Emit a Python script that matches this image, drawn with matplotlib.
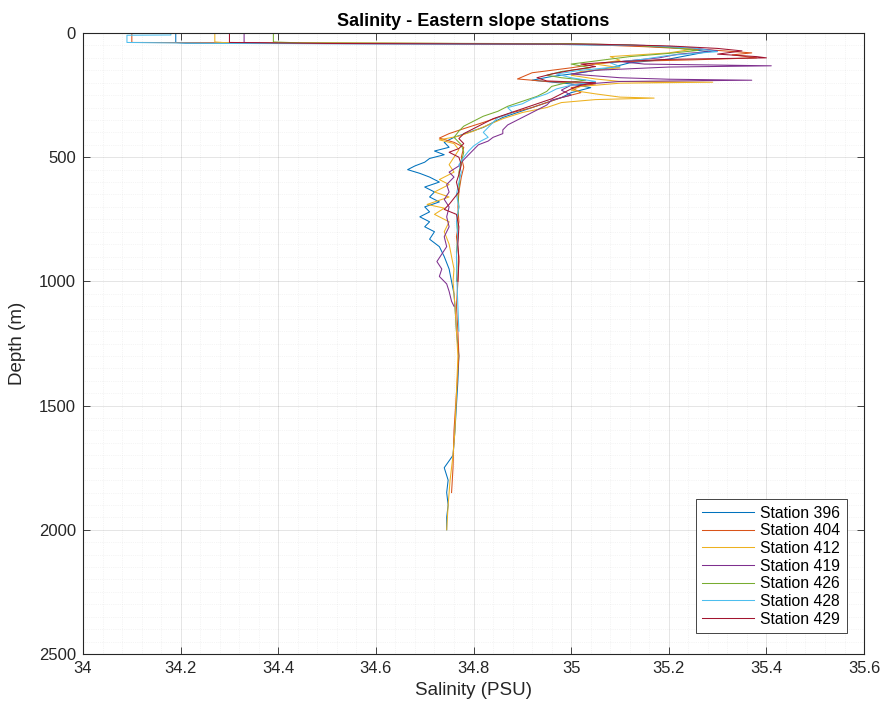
import numpy as np
import matplotlib
matplotlib.use("Agg")
import matplotlib.pyplot as plt
from matplotlib.ticker import MultipleLocator

plt.rcParams['font.family'] = ['Liberation Sans', 'DejaVu Sans']

stations = ["Station 396", "Station 404", "Station 412", "Station 419",
            "Station 426", "Station 428", "Station 429"]
colors = ["#0072BD", "#D95319", "#EDB120", "#7E2F8E", "#77AC30", "#4DBEEE", "#A2142F"]

# each row: [depth (m), salinity (PSU)]
st396 = np.array([
    [2, 34.19], [38, 34.19], [41, 34.21], [44, 34.9], [50, 35.12], [60, 35.22], [75, 35.28],
    [90, 35.24], [105, 35.2], [120, 35.12], [140, 35.08], [160, 35.02], [175, 34.96], [190, 34.92],
    [205, 35.0], [220, 35.04], [240, 35.0], [260, 34.98], [280, 34.95], [300, 34.92], [320, 34.89],
    [340, 34.86], [360, 34.84], [380, 34.82], [400, 34.79], [420, 34.76], [440, 34.74], [460, 34.75],
    [475, 34.72], [490, 34.74], [505, 34.71], [520, 34.70], [535, 34.68], [550, 34.665], [565, 34.69],
    [580, 34.71], [600, 34.73], [620, 34.70], [640, 34.72], [660, 34.71], [680, 34.73], [700, 34.70],
    [720, 34.71], [740, 34.69], [760, 34.71], [780, 34.70], [800, 34.72], [830, 34.71], [860, 34.73],
    [900, 34.74], [950, 34.75], [1000, 34.755], [1050, 34.76], [1100, 34.762], [1200, 34.765],
    [1300, 34.77], [1400, 34.768], [1500, 34.765], [1600, 34.762], [1700, 34.758], [1750, 34.74],
    [1800, 34.748], [1850, 34.745], [1900, 34.748], [1950, 34.745], [2000, 34.745]])

st404 = np.array([
    [3, 34.10], [38, 34.10], [41, 34.6], [44, 35.0], [55, 35.15], [70, 35.30], [80, 35.37],
    [88, 35.33], [100, 35.38], [108, 35.25], [115, 35.10], [125, 35.05], [140, 35.0], [160, 34.92],
    [185, 34.89], [195, 34.95], [205, 35.05], [220, 35.0], [240, 35.02], [260, 34.98], [280, 34.95],
    [300, 34.92], [320, 34.88], [340, 34.85], [360, 34.82], [385, 34.78], [405, 34.75], [423, 34.73],
    [440, 34.76], [460, 34.78], [500, 34.775], [540, 34.78], [580, 34.775], [640, 34.77],
    [700, 34.768], [760, 34.77], [820, 34.765], [900, 34.77], [1000, 34.768], [1100, 34.765],
    [1200, 34.768], [1300, 34.77], [1450, 34.765], [1600, 34.76], [1750, 34.758], [1850, 34.755]])

st412 = np.array([
    [3, 34.27], [36, 34.27], [40, 34.30], [43, 34.9], [47, 35.1], [55, 35.2], [65, 35.25],
    [80, 35.2], [95, 35.08], [110, 35.1], [125, 35.05], [140, 35.1], [155, 35.02], [170, 35.0],
    [185, 35.05], [195, 35.1], [198, 35.29], [202, 35.1], [215, 35.02], [230, 35.0], [245, 35.05],
    [258, 35.1], [262, 35.17], [268, 35.05], [280, 34.98], [300, 34.95], [320, 34.9], [345, 34.86],
    [370, 34.83], [395, 34.8], [415, 34.77], [430, 34.73], [445, 34.76], [470, 34.77], [500, 34.76],
    [530, 34.75], [560, 34.76], [590, 34.73], [610, 34.75], [640, 34.72], [660, 34.75], [690, 34.705],
    [705, 34.74], [730, 34.72], [760, 34.75], [800, 34.74], [850, 34.75], [900, 34.755], [950, 34.76],
    [1000, 34.758], [1100, 34.762], [1200, 34.765], [1300, 34.768], [1400, 34.766], [1500, 34.764],
    [1600, 34.762], [1700, 34.758], [1800, 34.752], [1900, 34.748], [2000, 34.745]])

st419 = np.array([
    [3, 34.33], [38, 34.33], [42, 34.4], [45, 35.0], [50, 35.15], [60, 35.25], [72, 35.3],
    [85, 35.22], [100, 35.18], [115, 35.1], [125, 35.15], [132, 35.41], [137, 35.2], [150, 35.05],
    [165, 35.0], [180, 35.1], [186, 35.2], [190, 35.37], [195, 35.1], [210, 35.0], [230, 34.98],
    [250, 35.0], [270, 34.96], [290, 34.95], [310, 34.93], [330, 34.91], [350, 34.89], [370, 34.87],
    [390, 34.86], [405, 34.86], [420, 34.84], [435, 34.83], [450, 34.81], [470, 34.8], [490, 34.79],
    [510, 34.78], [535, 34.77], [560, 34.75], [580, 34.76], [610, 34.745], [640, 34.75], [670, 34.74],
    [700, 34.75], [740, 34.745], [780, 34.75], [820, 34.74], [860, 34.745], [890, 34.735],
    [920, 34.725], [950, 34.735], [980, 34.73], [1010, 34.745], [1040, 34.75], [1080, 34.755],
    [1100, 34.76]])

st426 = np.array([
    [3, 34.39], [36, 34.39], [40, 34.45], [43, 35.0], [48, 35.12], [58, 35.2], [70, 35.26],
    [82, 35.2], [95, 35.12], [110, 35.06], [125, 35.0], [140, 35.04], [155, 34.98], [170, 34.95],
    [180, 34.98], [190, 35.03], [200, 34.99], [215, 34.96], [235, 34.95], [255, 34.93], [275, 34.9],
    [295, 34.87], [315, 34.85], [335, 34.82], [355, 34.8], [375, 34.78], [395, 34.77], [420, 34.76],
    [450, 34.775], [480, 34.78], [520, 34.775], [560, 34.77], [600, 34.772], [650, 34.768],
    [700, 34.77], [760, 34.766], [820, 34.768], [880, 34.765], [940, 34.766], [1000, 34.765]])

st428 = np.array([
    [1, 34.18], [8, 34.18], [9, 34.09], [38, 34.09], [42, 34.3], [45, 34.95], [50, 35.15],
    [60, 35.25], [75, 35.3], [90, 35.2], [105, 35.15], [120, 35.08], [135, 35.1], [150, 35.02],
    [165, 34.97], [180, 35.0], [195, 35.05], [210, 35.0], [225, 34.97], [245, 34.95], [265, 34.92],
    [285, 34.9], [300, 34.87], [320, 34.88], [340, 34.85], [360, 34.84], [380, 34.83], [400, 34.82],
    [420, 34.83], [435, 34.815], [455, 34.8], [475, 34.79], [500, 34.78], [530, 34.77], [560, 34.775],
    [600, 34.77], [650, 34.765], [700, 34.77], [760, 34.765], [820, 34.768], [900, 34.765],
    [1000, 34.766], [1100, 34.768], [1200, 34.77]])

st429 = np.array([
    [2, 34.30], [38, 34.30], [42, 34.5], [45, 35.05], [52, 35.2], [62, 35.3], [72, 35.35],
    [85, 35.3], [95, 35.38], [100, 35.40], [106, 35.2], [115, 35.1], [125, 35.02], [135, 35.05],
    [150, 35.0], [165, 34.96], [180, 34.93], [193, 34.95], [200, 35.05], [210, 35.02], [225, 35.0],
    [245, 34.98], [265, 34.96], [285, 34.93], [305, 34.9], [325, 34.87], [345, 34.84], [365, 34.82],
    [385, 34.8], [405, 34.78], [425, 34.77], [445, 34.78], [465, 34.77], [480, 34.75], [500, 34.77],
    [530, 34.775], [570, 34.77], [600, 34.765], [640, 34.77], [690, 34.75], [710, 34.74],
    [730, 34.765], [780, 34.77], [850, 34.768], [920, 34.77], [1000, 34.768]])

profiles = [st396, st404, st412, st419, st426, st428, st429]

x_ticks = [34, 34.2, 34.4, 34.6, 34.8, 35, 35.2, 35.4, 35.6]
x_tick_labels = ["34", "34.2", "34.4", "34.6", "34.8", "35", "35.2", "35.4", "35.6"]
y_ticks = [0, 500, 1000, 1500, 2000, 2500]

fig = plt.figure(figsize=(8.86, 7.04), dpi=100)
ax = fig.add_axes([0.0937, 0.071, 0.8815, 0.8821])

for prof, name, c in zip(profiles, stations, colors):
    ax.plot(prof[:, 1], prof[:, 0], color=c, lw=0.75, label=name)

ax.set_xlim(34, 35.6)
ax.set_ylim(2500, 0)
ax.set_xticks(x_ticks)
ax.set_xticklabels(x_tick_labels)
ax.set_yticks(y_ticks)
ax.xaxis.set_minor_locator(MultipleLocator(0.04))
ax.yaxis.set_minor_locator(MultipleLocator(50))
ax.grid(True, which='major', color='#262626', alpha=0.14, lw=0.6)
ax.grid(True, which='minor', color='#262626', alpha=0.09, lw=0.5, ls=':')
ax.tick_params(which='major', direction='in', length=5, top=True, right=True,
               labelsize=12, colors='#262626', width=0.6, pad=5)
ax.tick_params(which='minor', length=0, top=True, right=True)
for sp in ax.spines.values():
    sp.set_color('#262626')
    sp.set_linewidth(0.8)

ax.set_title("Salinity - Eastern slope stations", fontsize=13, fontweight='bold', pad=5)
ax.set_xlabel("Salinity (PSU)", fontsize=13.5, labelpad=4, color='#262626')
ax.set_ylabel("Depth (m)", fontsize=13.5, labelpad=9, color='#262626')

leg = ax.legend(loc='lower right', bbox_to_anchor=(0.978, 0.034), borderaxespad=0,
                fontsize=11.3, handlelength=3.3, handletextpad=0.4, labelspacing=0.17,
                borderpad=0.4, fancybox=False, framealpha=1, edgecolor='#262626')
leg.get_frame().set_linewidth(0.6)

fig.savefig("out.png", dpi=100)
